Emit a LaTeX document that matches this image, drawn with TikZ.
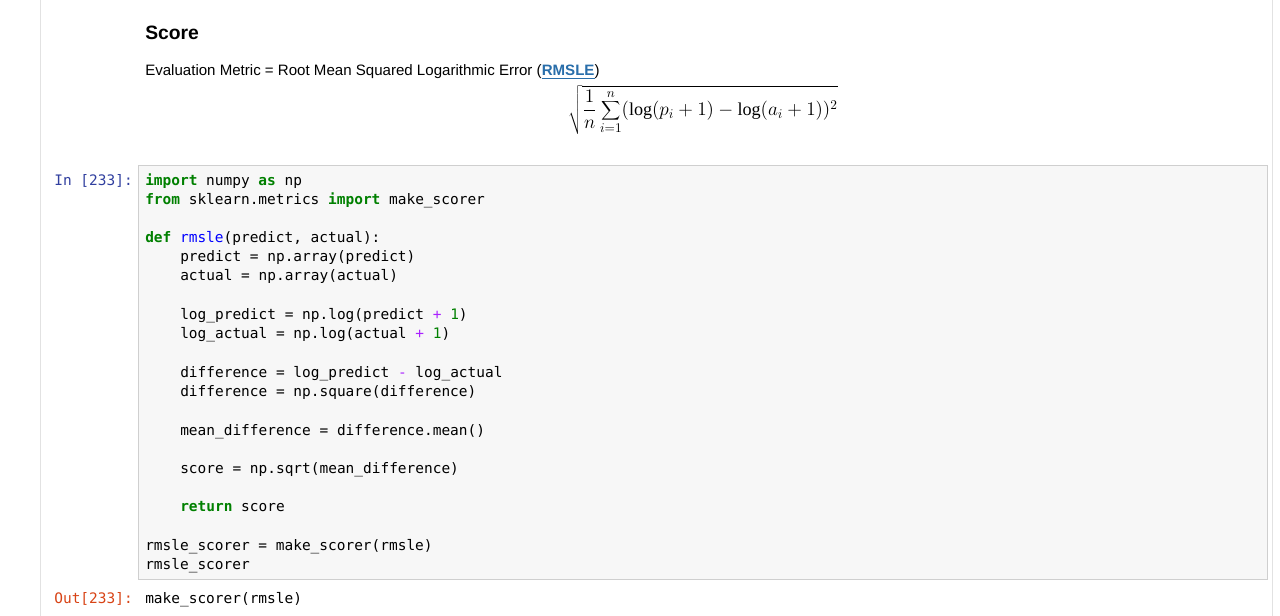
\documentclass[tikz,border=0pt]{standalone}
\usepackage{fontspec}
\setmainfont{Liberation Sans}
\setmonofont{DejaVu Sans Mono}
\newfontfamily\ser{Liberation Serif}
\definecolor{kw}{HTML}{008000}
\definecolor{fn}{HTML}{0000FF}
\definecolor{op}{HTML}{AA22FF}
\definecolor{inp}{HTML}{303F9F}
\definecolor{outp}{HTML}{D84315}
\definecolor{cellbg}{HTML}{F7F7F7}
\definecolor{cellbd}{HTML}{CFCFCF}
\definecolor{lnk}{HTML}{296EAA}
\newcommand{\K}[1]{\textcolor{kw}{\bfseries #1}}
\newcommand{\F}[1]{\textcolor{fn}{#1}}
\newcommand{\Op}[1]{\textcolor{op}{#1}}
\newcommand{\N}[1]{\textcolor{kw}{#1}}
\newcommand{\slog}{\mathop{\hbox{\ser log}}\nolimits}
\begin{document}
\begin{tikzpicture}[x=0.75pt,y=-0.75pt,
  code/.style={anchor=base west,inner sep=0pt,font=\ttfamily\fontsize{10.85}{12}\selectfont},
  prompt/.style={anchor=base east,inner sep=0pt,font=\ttfamily\fontsize{10.85}{12}\selectfont}]
\useasboundingbox (0,0) rectangle (1280,616);
\fill[white] (0,0) rectangle (1280,616);
\draw[cellbd!60] (40,0) -- (40,616);
\draw[cellbd!60] (1272,0) -- (1272,616);
\node[anchor=base west,inner sep=0pt,font=\bfseries\fontsize{14.5}{16}\selectfont] (title) at (145,40) {Score};
\node[anchor=base west,inner sep=0pt,font=\fontsize{11.3}{13}\selectfont] (metric) at (145,76)
 {Evaluation Metric = Root Mean Squared Logarithmic Error (\textcolor{lnk}{\bfseries\underline{RMSLE}})};
\node[inner sep=0pt,font=\ser\fontsize{13.6}{16}\selectfont] (formula) at (703,110)
 {$\displaystyle\sqrt{\frac{1}{n}\sum_{i=1}^{n}(\slog(p_i+1)-\slog(a_i+1))^2}$};
\draw[cellbd,fill=cellbg] (138,165) rectangle (1267,579);
\node[prompt,text=inp] (in) at (133,186) {In [233]:};
\node[code] (l1) at (145,186) {\K{import} numpy \K{as} np};
\node[code] (l2) at (145,205) {\K{from} sklearn.metrics \K{import} make\_scorer};
\node[code] (l3) at (145,243) {\K{def} \F{rmsle}(predict, actual):};
\node[code] (l4) at (180,262) {predict = np.array(predict)};
\node[code] (l5) at (180,281) {actual = np.array(actual)};
\node[code] (l6) at (180,320) {log\_predict = np.log(predict \Op{+} \N{1})};
\node[code] (l7) at (180,339) {log\_actual = np.log(actual \Op{+} \N{1})};
\node[code] (l8) at (180,377) {difference = log\_predict \Op{-} log\_actual};
\node[code] (l9) at (180,396) {difference = np.square(difference)};
\node[code] (l10) at (180,435) {mean\_difference = difference.mean()};
\node[code] (l11) at (180,473) {score = np.sqrt(mean\_difference)};
\node[code] (l12) at (180,511) {\K{return} score};
\node[code] (l13) at (145,550) {rmsle\_scorer = make\_scorer(rmsle)};
\node[code] (l14) at (145,569) {rmsle\_scorer};
\node[prompt,text=outp] (out) at (133,603) {Out[233]:};
\node[code] (o1) at (145,603) {make\_scorer(rmsle)};
\end{tikzpicture}
\end{document}
